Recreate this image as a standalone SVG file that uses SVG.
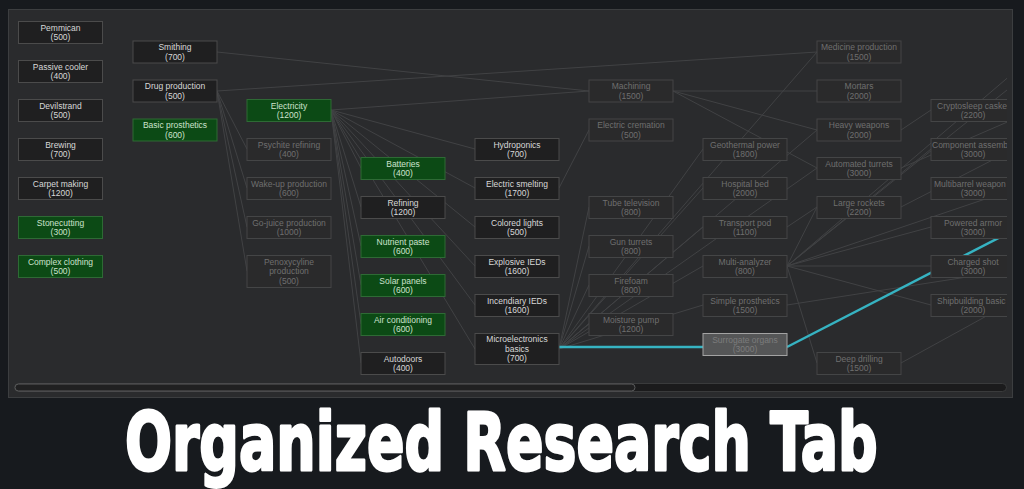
<svg xmlns="http://www.w3.org/2000/svg" width="1024" height="489" viewBox="0 0 1024 489">
<style>
.n rect{fill:#1f1f20;stroke:#4b4b4b;stroke-width:1}
.g rect{fill:#0c4a15;stroke:#2e6a35;stroke-width:1}
.d rect{fill:#2a2a2b;stroke:#444546;stroke-width:1}
.s rect{fill:#555657;stroke:#a3a3a3;stroke-width:1}
text{font-family:"Liberation Sans",Arial,sans-serif;font-size:8.5px;text-anchor:middle}
.n text{fill:#d8d8d8}
.g text{fill:#cde2cd}
.d text{fill:#6f6f6f}
.s text{fill:#7c7c7c}
#connectors line{stroke:#414244;stroke-width:1;fill:none}
#connectors .hl{stroke:#36b3c2;stroke-width:2.5}
.title{font-family:"DejaVu Sans","Liberation Sans",sans-serif;font-weight:bold;font-size:80px;fill:#ffffff;stroke:#ffffff;stroke-width:3;stroke-linejoin:round;text-anchor:start}
</style>
<defs>
<clipPath id="pc"><rect x="9" y="10" width="998" height="387"/></clipPath>
</defs>
<rect x="0" y="0" width="1024" height="489" fill="#171a1e"/>
<rect x="8.5" y="9.5" width="1004" height="388" fill="#2a2b2d" stroke="#3c3e40" stroke-width="1"/>
<g clip-path="url(#pc)">
<g id="connectors">
<line x1="217" y1="52" x2="589" y2="91"/>
<line x1="217" y1="91" x2="817" y2="52"/>
<line x1="217" y1="91" x2="247" y2="149"/>
<line x1="217" y1="91" x2="247" y2="188"/>
<line x1="217" y1="91" x2="247" y2="227"/>
<line x1="217" y1="91" x2="247" y2="271"/>
<line x1="331" y1="110" x2="589" y2="91"/>
<line x1="331" y1="110" x2="361" y2="168"/>
<line x1="331" y1="110" x2="361" y2="207"/>
<line x1="331" y1="110" x2="361" y2="246"/>
<line x1="331" y1="110" x2="361" y2="285"/>
<line x1="331" y1="110" x2="361" y2="324"/>
<line x1="331" y1="110" x2="361" y2="363"/>
<line x1="331" y1="110" x2="475" y2="149"/>
<line x1="331" y1="110" x2="475" y2="188"/>
<line x1="331" y1="110" x2="475" y2="227"/>
<line x1="331" y1="110" x2="475" y2="266"/>
<line x1="331" y1="110" x2="475" y2="305"/>
<line x1="331" y1="110" x2="475" y2="349"/>
<line x1="559" y1="188" x2="589" y2="130"/>
<line x1="559" y1="349" x2="589" y2="207"/>
<line x1="559" y1="349" x2="589" y2="246"/>
<line x1="559" y1="349" x2="589" y2="285"/>
<line x1="559" y1="349" x2="589" y2="324"/>
<line x1="559" y1="349" x2="703" y2="149"/>
<line x1="559" y1="349" x2="703" y2="188"/>
<line x1="559" y1="349" x2="703" y2="227"/>
<line x1="559" y1="349" x2="703" y2="266"/>
<line x1="559" y1="349" x2="703" y2="305"/>
<line x1="559" y1="349" x2="817" y2="52"/>
<line x1="559" y1="349" x2="817" y2="130"/>
<line x1="559" y1="349" x2="817" y2="168"/>
<line x1="673" y1="91" x2="817" y2="91"/>
<line x1="673" y1="91" x2="817" y2="130"/>
<line x1="673" y1="91" x2="817" y2="168"/>
<line x1="787" y1="227" x2="817" y2="207"/>
<line x1="901" y1="130" x2="931" y2="110"/>
<line x1="787" y1="266" x2="817" y2="207"/>
<line x1="787" y1="266" x2="931" y2="149"/>
<line x1="787" y1="266" x2="931" y2="227"/>
<line x1="787" y1="266" x2="931" y2="266"/>
<line x1="787" y1="266" x2="931" y2="305"/>
<line x1="787" y1="266" x2="817" y2="363"/>
<line x1="787" y1="266" x2="1012" y2="74"/>
<line x1="787" y1="266" x2="1012" y2="86"/>
<line x1="787" y1="266" x2="1012" y2="190"/>
<line x1="787" y1="305" x2="1012" y2="270"/>
<line x1="901" y1="363" x2="1012" y2="302"/>
<line x1="901" y1="207" x2="1012" y2="150"/>
<line x1="901" y1="168" x2="1012" y2="120"/>
<line class="hl" x1="559" y1="347" x2="703" y2="347"/>
<line class="hl" x1="787" y1="347" x2="1012" y2="231"/>
</g>
<g id="pemmican" class="n"><rect x="18.5" y="21.5" width="84" height="22"/><text x="60.5" y="30.5">Pemmican</text><text x="60.5" y="40">(500)</text></g>
<g id="passive-cooler" class="n"><rect x="18.5" y="60.5" width="84" height="22"/><text x="60.5" y="69.5">Passive cooler</text><text x="60.5" y="79">(400)</text></g>
<g id="devilstrand" class="n"><rect x="18.5" y="99.5" width="84" height="22"/><text x="60.5" y="108.5">Devilstrand</text><text x="60.5" y="118">(500)</text></g>
<g id="brewing" class="n"><rect x="18.5" y="138.5" width="84" height="22"/><text x="60.5" y="147.5">Brewing</text><text x="60.5" y="157">(700)</text></g>
<g id="carpet-making" class="n"><rect x="18.5" y="177.5" width="84" height="22"/><text x="60.5" y="186.5">Carpet making</text><text x="60.5" y="196">(1200)</text></g>
<g id="stonecutting" class="g"><rect x="18.5" y="216.5" width="84" height="22"/><text x="60.5" y="225.5">Stonecutting</text><text x="60.5" y="235">(300)</text></g>
<g id="complex-clothing" class="g"><rect x="18.5" y="255.5" width="84" height="22"/><text x="60.5" y="264.5">Complex clothing</text><text x="60.5" y="274">(500)</text></g>

<g id="smithing" class="n"><rect x="133" y="41" width="84" height="22"/><text x="175" y="50">Smithing</text><text x="175" y="59.5">(700)</text></g>
<g id="drug-production" class="n"><rect x="133" y="80" width="84" height="22"/><text x="175" y="89">Drug production</text><text x="175" y="98.5">(500)</text></g>
<g id="basic-prosthetics" class="g"><rect x="133" y="119" width="84" height="22"/><text x="175" y="128">Basic prosthetics</text><text x="175" y="137.5">(600)</text></g>

<g id="electricity" class="g"><rect x="247" y="99.5" width="84" height="22"/><text x="289" y="108.5">Electricity</text><text x="289" y="118">(1200)</text></g>
<g id="psychite-refining" class="d"><rect x="247" y="138.5" width="84" height="22"/><text x="289" y="147.5">Psychite refining</text><text x="289" y="157">(400)</text></g>
<g id="wake-up-production" class="d"><rect x="247" y="177.5" width="84" height="22"/><text x="289" y="186.5">Wake-up production</text><text x="289" y="196">(600)</text></g>
<g id="go-juice-production" class="d"><rect x="247" y="216.5" width="84" height="22"/><text x="289" y="225.5">Go-juice production</text><text x="289" y="235">(1000)</text></g>
<g id="penoxycyline-production" class="d"><rect x="247" y="255.5" width="84" height="32"/><text x="289" y="264.5">Penoxycyline</text><text x="289" y="274">production</text><text x="289" y="283.5">(500)</text></g>

<g id="batteries" class="g"><rect x="361" y="157.5" width="84" height="22"/><text x="403" y="166.5">Batteries</text><text x="403" y="176">(400)</text></g>
<g id="refining" class="n"><rect x="361" y="196.5" width="84" height="22"/><text x="403" y="205.5">Refining</text><text x="403" y="215">(1200)</text></g>
<g id="nutrient-paste" class="g"><rect x="361" y="235.5" width="84" height="22"/><text x="403" y="244.5">Nutrient paste</text><text x="403" y="254">(600)</text></g>
<g id="solar-panels" class="g"><rect x="361" y="274.5" width="84" height="22"/><text x="403" y="283.5">Solar panels</text><text x="403" y="293">(600)</text></g>
<g id="air-conditioning" class="g"><rect x="361" y="313.5" width="84" height="22"/><text x="403" y="322.5">Air conditioning</text><text x="403" y="332">(600)</text></g>
<g id="autodoors" class="n"><rect x="361" y="352.5" width="84" height="22"/><text x="403" y="361.5">Autodoors</text><text x="403" y="371">(400)</text></g>

<g id="hydroponics" class="n"><rect x="475" y="138.5" width="84" height="22"/><text x="517" y="147.5">Hydroponics</text><text x="517" y="157">(700)</text></g>
<g id="electric-smelting" class="n"><rect x="475" y="177.5" width="84" height="22"/><text x="517" y="186.5">Electric smelting</text><text x="517" y="196">(1700)</text></g>
<g id="colored-lights" class="n"><rect x="475" y="216.5" width="84" height="22"/><text x="517" y="225.5">Colored lights</text><text x="517" y="235">(500)</text></g>
<g id="explosive-ieds" class="n"><rect x="475" y="255.5" width="84" height="22"/><text x="517" y="264.5">Explosive IEDs</text><text x="517" y="274">(1600)</text></g>
<g id="incendiary-ieds" class="n"><rect x="475" y="294.5" width="84" height="22"/><text x="517" y="303.5">Incendiary IEDs</text><text x="517" y="313">(1600)</text></g>
<g id="microelectronics-basics" class="n"><rect x="475" y="333.5" width="84" height="31"/><text x="517" y="342">Microelectronics</text><text x="517" y="351.5">basics</text><text x="517" y="361">(700)</text></g>

<g id="machining" class="d"><rect x="589" y="80" width="84" height="22"/><text x="631" y="89">Machining</text><text x="631" y="98.5">(1500)</text></g>
<g id="electric-cremation" class="d"><rect x="589" y="119" width="84" height="22"/><text x="631" y="128">Electric cremation</text><text x="631" y="137.5">(500)</text></g>
<g id="tube-television" class="d"><rect x="589" y="196.5" width="84" height="22"/><text x="631" y="205.5">Tube television</text><text x="631" y="215">(800)</text></g>
<g id="gun-turrets" class="d"><rect x="589" y="235.5" width="84" height="22"/><text x="631" y="244.5">Gun turrets</text><text x="631" y="254">(800)</text></g>
<g id="firefoam" class="d"><rect x="589" y="274.5" width="84" height="22"/><text x="631" y="283.5">Firefoam</text><text x="631" y="293">(800)</text></g>
<g id="moisture-pump" class="d"><rect x="589" y="313.5" width="84" height="22"/><text x="631" y="322.5">Moisture pump</text><text x="631" y="332">(1200)</text></g>

<g id="geothermal-power" class="d"><rect x="703" y="138.5" width="84" height="22"/><text x="745" y="147.5">Geothermal power</text><text x="745" y="157">(1800)</text></g>
<g id="hospital-bed" class="d"><rect x="703" y="177.5" width="84" height="22"/><text x="745" y="186.5">Hospital bed</text><text x="745" y="196">(2000)</text></g>
<g id="transport-pod" class="d"><rect x="703" y="216.5" width="84" height="22"/><text x="745" y="225.5">Transport pod</text><text x="745" y="235">(1100)</text></g>
<g id="multi-analyzer" class="d"><rect x="703" y="255.5" width="84" height="22"/><text x="745" y="264.5">Multi-analyzer</text><text x="745" y="274">(800)</text></g>
<g id="simple-prosthetics" class="d"><rect x="703" y="294.5" width="84" height="22"/><text x="745" y="303.5">Simple prosthetics</text><text x="745" y="313">(1500)</text></g>
<g id="surrogate-organs" class="s"><rect x="703" y="333.5" width="84" height="22"/><text x="745" y="342.5">Surrogate organs</text><text x="745" y="352">(3000)</text></g>

<g id="medicine-production" class="d"><rect x="817" y="41" width="84" height="22"/><text x="859" y="50">Medicine production</text><text x="859" y="59.5">(1500)</text></g>
<g id="mortars" class="d"><rect x="817" y="80" width="84" height="22"/><text x="859" y="89">Mortars</text><text x="859" y="98.5">(2000)</text></g>
<g id="heavy-weapons" class="d"><rect x="817" y="119" width="84" height="22"/><text x="859" y="128">Heavy weapons</text><text x="859" y="137.5">(2000)</text></g>
<g id="automated-turrets" class="d"><rect x="817" y="157.5" width="84" height="22"/><text x="859" y="166.5">Automated turrets</text><text x="859" y="176">(3000)</text></g>
<g id="large-rockets" class="d"><rect x="817" y="196.5" width="84" height="22"/><text x="859" y="205.5">Large rockets</text><text x="859" y="215">(2200)</text></g>
<g id="deep-drilling" class="d"><rect x="817" y="352.5" width="84" height="22"/><text x="859" y="361.5">Deep drilling</text><text x="859" y="371">(1500)</text></g>

<g id="cryptosleep" class="d"><rect x="931" y="99.5" width="84" height="22"/><text x="937" y="108.5" style="text-anchor:start">Cryptosleep caske</text><text x="973" y="118">(2200)</text></g>
<g id="component-assembly" class="d"><rect x="931" y="138.5" width="84" height="22"/><text x="932" y="147.5" style="text-anchor:start">Component assemb</text><text x="973" y="157">(3000)</text></g>
<g id="multibarrel-weapons" class="d"><rect x="931" y="177.5" width="84" height="22"/><text x="934" y="186.5" style="text-anchor:start">Multibarrel weapon</text><text x="973" y="196">(3000)</text></g>
<g id="powered-armor" class="d"><rect x="931" y="216.5" width="84" height="22"/><text x="973" y="225.5">Powered armor</text><text x="973" y="235">(3000)</text></g>
<g id="charged-shot" class="d"><rect x="931" y="255.5" width="84" height="22"/><text x="973" y="264.5">Charged shot</text><text x="973" y="274">(3000)</text></g>
<g id="shipbuilding-basics" class="d"><rect x="931" y="294.5" width="84" height="22"/><text x="937" y="303.5" style="text-anchor:start">Shipbuilding basic</text><text x="973" y="313">(2000)</text></g>
</g>
<g id="scrollbar">
<rect x="14.5" y="383.5" width="992" height="8" rx="4" fill="#1b1b1c" stroke="#3a3b3c"/>
<rect x="15" y="384" width="620" height="7" rx="3.5" fill="#202021" stroke="#5a5b5c"/>
</g>
<text class="title" transform="translate(125,470) scale(0.692,1)" x="0" y="0">Organized Research Tab</text>
</svg>
